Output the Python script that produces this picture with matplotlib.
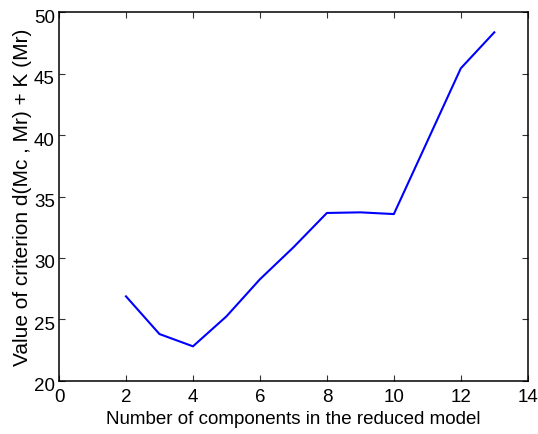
import matplotlib
matplotlib.use('Agg')
import matplotlib.pyplot as plt
from matplotlib.transforms import ScaledTranslation

# criterion value for each number of components
n_components = [2, 3, 4, 5, 6, 7, 8, 9, 10, 11, 12, 13]
criterion = [26.87, 23.80, 22.80, 25.24, 28.26, 30.86, 33.66, 33.71, 33.57, 39.5, 45.44, 48.37]

x_ticks = [0, 2, 4, 6, 8, 10, 12, 14]
y_ticks = [20, 25, 30, 35, 40, 45, 50]

plt.rcParams['font.family'] = ['Liberation Sans', 'DejaVu Sans']

fig = plt.figure(figsize=(5.38, 4.35), dpi=100)
ax = fig.add_axes([0.1097, 0.1225, 0.8713, 0.8469])

ax.plot(n_components, criterion, color='#0000ff', linewidth=1.5)

ax.set_xlim(0, 14)
ax.set_ylim(20, 50)
ax.set_xticks(x_ticks)
ax.set_yticks(y_ticks)
ax.tick_params(direction='in', top=True, right=True, labelsize=13.5,
               length=4, width=0.8, color='#333333')
ax.tick_params(axis='x', pad=5)
ax.tick_params(axis='y', pad=3)
for spine in ax.spines.values():
    spine.set_linewidth(1.1)

# y tick labels sit a little below their ticks
shift = ScaledTranslation(0, -3 / 100, fig.dpi_scale_trans)
for lab in ax.get_yticklabels():
    lab.set_transform(lab.get_transform() + shift)

ax.set_xlabel('Number of components in the reduced model', fontsize=13.5, labelpad=4)
ax.set_ylabel('Value of criterion d(Mc , Mr) + K (Mr)', fontsize=15, labelpad=1)

fig.savefig('out.png', dpi=100)
